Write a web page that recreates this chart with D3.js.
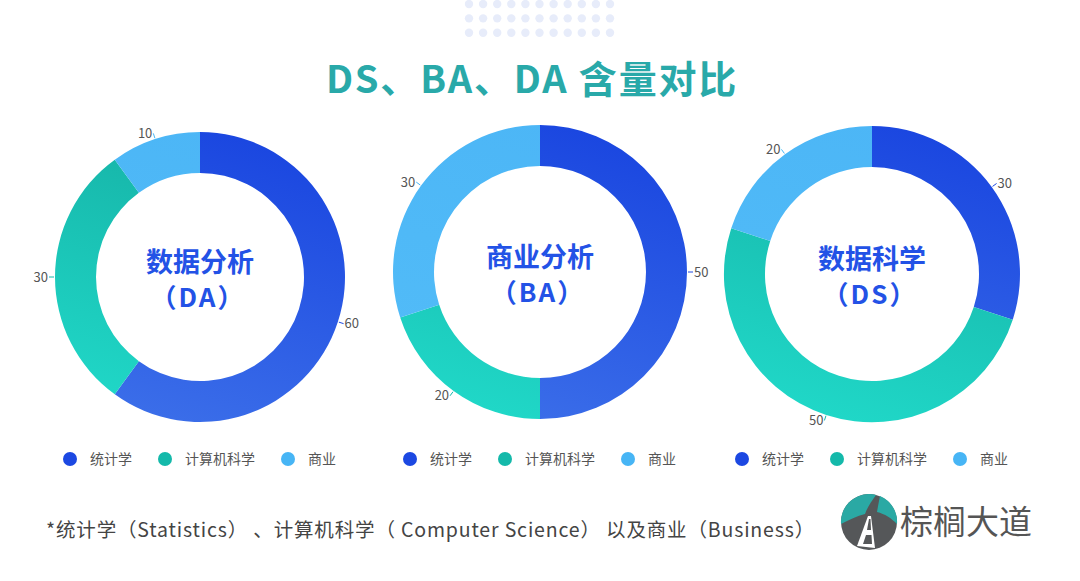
<!DOCTYPE html>
<html>
<head>
<meta charset="utf-8">
<script src="https://cdn.jsdelivr.net/npm/d3@7"></script>
<style>
  body { margin: 0; background: #fff; }
  svg text { font-family: "Noto Sans CJK SC", "Noto Sans", sans-serif; }
</style>
</head>
<body>
<div id="chart"></div>
<script>
// data
let categories = ["统计学", "计算机科学", "商业"];
let chartNames = ["数据分析", "商业分析", "数据科学"];
let chartCodes = ["（DA）", "（BA）", "（DS）"];
let daValues = [60, 30, 10];
let baValues = [50, 20, 30];
let dsValues = [30, 50, 20];
let titleText = "DS、BA、DA 含量对比";
let noteText = "*统计学（Statistics） 、计算机科学（ Computer Science） 以及商业（Business）";
let logoText = "棕榈大道";

let svgWidth = 1080;
let svgHeight = 581;

let svg = d3.select("#chart")
  .append("svg")
  .attr("width", svgWidth)
  .attr("height", svgHeight);

let defs = svg.append("defs");

// gradients for the three segment colours
let gradStops = [
  ["#1a46e0", "#3b6ee9"],
  ["#15b0a4", "#20d8c8"],
  ["#4cb6f6", "#52bcf8"]
];
let legendColors = ["#1c48e2", "#14b9aa", "#47b5f5"];

// dotted pattern at the top
let dotX = d3.range(11);
let dotY = d3.range(3);
let dotScaleX = d3.scaleLinear().domain([0, 10]).range([469, 610]);
let dotScaleY = d3.scaleLinear().domain([0, 2]).range([4, 32.7]);
let dots = svg.append("g");
dotY.forEach(function(r) {
  dots.selectAll(null)
    .data(dotX)
    .enter()
    .append("circle")
    .attr("cx", d => dotScaleX(d))
    .attr("cy", dotScaleY(r))
    .attr("r", 4.2)
    .attr("fill", "#e7ecfa");
});

// title
svg.append("text")
  .attr("x", 532)
  .attr("y", 93)
  .attr("text-anchor", "middle")
  .attr("font-size", 38)
  .attr("font-weight", "bold")
  .attr("letter-spacing", 1.8)
  .attr("fill", "#29a9a9")
  .text(titleText);

let charts = [
  {values: daValues, cx: 200, cy: 277, r: 145},
  {values: baValues, cx: 540, cy: 272, r: 147},
  {values: dsValues, cx: 872, cy: 274, r: 148}
];
let legendStart = [70, 410, 742];
let legendOffsets = [0, 95, 218];

let pie = d3.pie().sort(null).value(d => d);

charts.forEach(function(c, i) {
  let g = svg.append("g")
    .attr("transform", `translate(${c.cx}, ${c.cy})`);

  gradStops.forEach(function(s, k) {
    let lg = defs.append("linearGradient")
      .attr("id", `grad${i}_${k}`)
      .attr("gradientUnits", "userSpaceOnUse")
      .attr("x1", c.r * 0.3).attr("y1", -c.r)
      .attr("x2", -c.r * 0.3).attr("y2", c.r);
    lg.append("stop").attr("offset", "0%").attr("stop-color", s[0]);
    lg.append("stop").attr("offset", "100%").attr("stop-color", s[1]);
  });

  let inner = c.r - 41;
  let arc = d3.arc().innerRadius(inner).outerRadius(c.r);
  let arcs = pie(c.values);

  g.selectAll("path")
    .data(arcs)
    .enter()
    .append("path")
    .attr("d", arc)
    .attr("fill", (d, k) => `url(#grad${i}_${k})`);

  // labels with tiny leader lines
  arcs.forEach(function(d, k) {
    let mid = (d.startAngle + d.endAngle) / 2;
    let sx = Math.sin(mid), sy = -Math.cos(mid);
    let r0 = c.r + 1, r1 = c.r + 6;
    g.append("line")
      .attr("x1", sx * r0).attr("y1", sy * r0)
      .attr("x2", sx * r1).attr("y2", sy * r1)
      .attr("stroke", legendColors[k])
      .attr("stroke-width", 1);
    let right = sx >= 0;
    g.append("text")
      .attr("x", sx * r1 + (right ? 1 : -1))
      .attr("y", sy * r1)
      .attr("dy", "0.35em")
      .attr("text-anchor", right ? "start" : "end")
      .attr("font-size", 13)
      .attr("fill", "#555")
      .text(d.data);
  });

  // center text
  g.append("text")
    .attr("x", 0).attr("y", -5)
    .attr("text-anchor", "middle")
    .attr("font-size", 27)
    .attr("font-weight", "bold")
    .attr("fill", "#2352e6")
    .text(chartNames[i]);
  g.append("text")
    .attr("x", -2).attr("y", 30)
    .attr("text-anchor", "middle")
    .attr("font-size", 26)
    .attr("font-weight", "bold")
    .attr("letter-spacing", 2)
    .attr("fill", "#2352e6")
    .text(chartCodes[i]);

  // legend
  let lg = svg.append("g")
    .attr("transform", `translate(${legendStart[i]}, 459)`);
  categories.forEach(function(cat, k) {
    lg.append("circle")
      .attr("cx", legendOffsets[k])
      .attr("cy", 0)
      .attr("r", 7)
      .attr("fill", legendColors[k]);
    lg.append("text")
      .attr("x", legendOffsets[k] + 20)
      .attr("y", 0)
      .attr("dy", "0.35em")
      .attr("font-size", 14)
      .attr("fill", "#555")
      .text(cat);
  });
});

// footnote
svg.append("text")
  .attr("x", 46)
  .attr("y", 537)
  .attr("font-size", 19.5)
  .attr("letter-spacing", 0.85)
  .attr("fill", "#444")
  .text(noteText);

// logo
let logo = svg.append("g").attr("transform", "translate(869, 522)");
logo.append("circle").attr("r", 28).attr("fill", "#555759");
logo.append("path")
  .attr("d", "M-28,2 A28,28 0 0,1 7,-27 C2,-20 -2,-14 -4,-8 C-12,-6 -20,-2 -28,2 Z")
  .attr("fill", "#2aa9a4");
logo.append("path")
  .attr("d", "M11,-26 A28,28 0 0,1 28,2 C22,-4 16,-8 8,-10 C9,-16 10,-21 11,-26 Z")
  .attr("fill", "#2aa9a4");
logo.append("path")
  .attr("d", "M-1,-6 L2,-6 L6,26 L-12,24 Z")
  .attr("fill", "#fff");
logo.append("path")
  .attr("d", "M0,-3 L1.5,-3 L2,8 L-2,8 Z M-3,13 L2.5,13 L3,22 L-6,22 Z")
  .attr("fill", "#555759");
svg.append("text")
  .attr("x", 900)
  .attr("y", 534)
  .attr("font-size", 33)
  .attr("fill", "#555")
  .text(logoText);
</script>
</body>
</html>
